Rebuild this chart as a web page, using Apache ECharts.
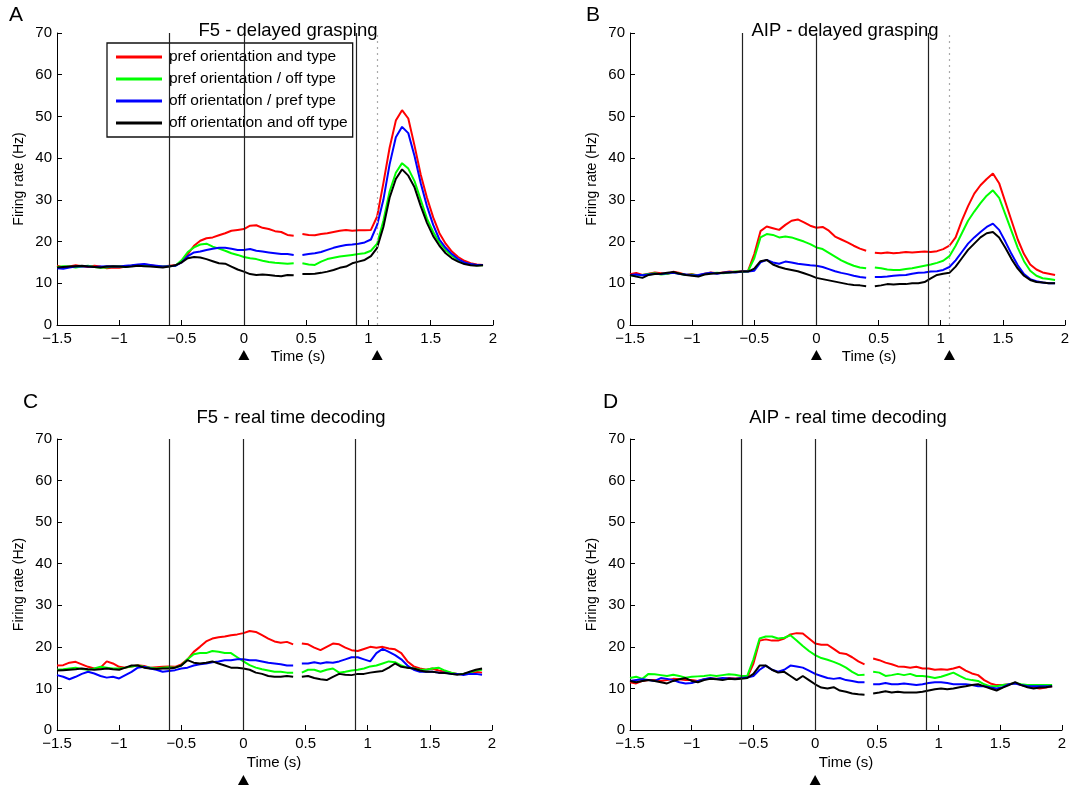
<!DOCTYPE html>
<html>
<head>
<meta charset="utf-8">
<script src="https://cdn.jsdelivr.net/npm/echarts@6/dist/echarts.min.js"></script>
<style>
  html, body { margin: 0; padding: 0; background: #fff; }
  #chart { width: 1074px; height: 787px; }
</style>
</head>
<body>
<div id="chart"></div>
<script>
// Time base (s): pre-cue segment, a break (null), then post-cue segment
const times = [-1.5,-1.45,-1.4,-1.35,-1.3,-1.25,-1.2,-1.15,-1.1,-1.05,-1,-0.95,-0.9,-0.85,-0.8,-0.75,-0.7,-0.65,-0.6,-0.55,
  -0.5,-0.45,-0.4,-0.35,-0.3,-0.25,-0.2,-0.15,-0.1,-0.05,0,0.05,0.1,0.15,0.2,0.25,0.3,0.35,0.4,
  0.435,
  0.47,0.52,0.57,0.62,0.67,0.72,0.77,0.82,0.87,0.92,0.97,1.02,1.07,1.12,1.17,1.22,1.27,1.32,1.37,1.42,1.47,1.52,1.57,1.62,1.67,1.72,1.77,1.82,1.87,1.92];

const conditionNames = ['pref orientation and type', 'pref orientation / off type', 'off orientation / pref type', 'off orientation and off type'];
const conditionColors = ['#ff0000', '#00ff00', '#0000ff', '#000000'];

const panelTitles = ['F5 - delayed grasping', 'AIP - delayed grasping', 'F5 - real time decoding', 'AIP - real time decoding'];
const panelLetters = ['A', 'B', 'C', 'D'];

// Event markers (s)
const eventLines = [-0.6, 0, 0.9];
const cueLineTop = 1.07;
const triangleTimesTop = [0, 1.07];
const triangleTimesBottom = [0];

const xTicks = { min: -1.5, max: 2, interval: 0.5 };
const yTicks = { min: 0, max: 70, interval: 10 };

// Panel A: F5 - delayed grasping
const redA = [14.2,13.8,14.0,14.3,14.1,13.9,14.2,14.0,13.6,13.8,13.7,14.0,14.2,14.3,14.5,14.3,14.1,14.0,14.2,14.3,
  15.0,17.0,19.0,20.2,20.8,21.0,21.5,22.0,22.6,22.8,23.0,23.8,23.9,23.3,23.0,22.5,22.3,21.6,21.4,
  null,
  21.8,21.6,21.5,21.8,22.0,22.3,22.6,22.8,22.6,22.7,22.7,22.8,26.0,34.0,42.5,49.0,51.5,49.5,43.0,36.0,30.5,25.8,22.0,19.5,17.6,16.3,15.4,14.8,14.5,14.4];
const greenA = [13.9,14.1,14.0,13.8,14.0,14.2,13.9,13.7,13.8,14.0,14.1,13.9,14.2,14.4,14.3,14.2,14.1,14.0,14.1,14.2,
  15.5,17.5,18.6,19.3,19.5,18.8,18.3,17.8,17.2,16.8,16.3,16.0,15.8,15.4,15.1,14.9,14.8,14.7,14.8,
  null,
  14.8,14.5,14.4,15.2,15.8,16.1,16.4,16.6,16.8,17.0,17.2,17.8,19.5,25.0,32.0,36.5,38.8,37.5,34.5,30.0,25.5,22.3,19.8,18.0,16.6,15.6,14.9,14.5,14.3,14.3];
const blueA = [13.6,13.5,13.8,14.0,14.1,14.0,13.9,14.0,14.1,14.0,14.0,14.2,14.3,14.5,14.6,14.4,14.2,14.0,14.1,14.2,
  15.0,16.5,17.4,17.6,18.0,18.3,18.5,18.5,18.3,18.0,18.0,18.2,17.8,17.6,17.4,17.2,17.0,17.0,16.8,
  null,
  16.8,17.0,17.2,17.5,18.0,18.5,18.9,19.2,19.3,19.5,19.8,20.5,24.0,30.0,38.5,45.0,47.5,46.0,40.5,34.0,28.5,24.0,20.5,18.5,17.0,15.8,15.0,14.6,14.4,14.4];
const blackA = [13.8,13.9,14.0,14.1,14.2,14.0,13.9,13.8,14.0,14.1,14.0,13.9,14.0,14.2,14.1,14.0,13.9,13.8,14.0,14.3,
  15.0,16.0,16.3,16.2,15.8,15.3,14.8,14.7,14.0,13.3,12.8,12.2,12.0,12.1,12.0,11.8,11.7,12.0,11.9,
  null,
  12.2,12.2,12.3,12.5,12.8,13.2,13.7,14.0,14.8,15.2,15.6,16.5,18.5,23.5,30.5,35.0,37.3,35.8,33.0,28.5,24.5,21.3,19.0,17.2,16.0,15.2,14.6,14.3,14.2,14.3];

// Panel B: AIP - delayed grasping
const redB = [12.2,12.5,12.0,12.3,12.6,12.4,12.2,12.8,12.5,12.0,12.2,11.9,12.3,12.6,12.4,12.6,12.8,12.7,12.9,13.0,
  17.0,22.5,23.6,23.2,22.8,24.0,25.0,25.3,24.6,23.8,23.3,23.5,22.6,21.2,20.5,19.8,19.0,18.3,17.8,
  null,
  17.3,17.2,17.4,17.2,17.3,17.5,17.4,17.5,17.6,17.5,17.7,18.2,19.0,21.0,25.0,28.5,31.5,33.5,35.0,36.3,34.0,29.5,25.0,20.5,17.0,14.5,13.3,12.6,12.3,12.0];
const greenB = [11.9,11.8,12.0,12.2,12.4,12.1,12.3,12.5,12.3,12.0,12.1,11.8,12.2,12.4,12.5,12.4,12.6,12.8,12.7,12.9,
  16.0,21.0,21.8,21.6,21.0,21.2,21.0,20.5,20.0,19.4,18.6,18.2,17.3,16.4,15.5,14.8,14.2,13.8,13.6,
  null,
  13.8,13.6,13.3,13.2,13.2,13.4,13.6,13.9,14.2,14.5,14.9,15.4,16.5,19.0,22.0,25.0,27.2,29.2,31.0,32.3,30.5,26.5,22.5,18.5,15.3,13.0,11.8,11.2,11.0,10.8];
const blueB = [12.0,12.1,11.9,12.1,12.3,12.2,12.4,12.5,12.2,12.1,11.9,12.0,12.3,12.5,12.3,12.5,12.7,12.6,12.8,12.8,
  13.0,15.0,15.6,15.0,14.7,15.2,15.0,14.7,14.5,14.3,14.2,13.9,13.4,12.9,12.5,12.2,11.8,11.5,11.3,
  null,
  11.5,11.5,11.6,11.8,11.9,12.0,12.3,12.5,12.6,12.8,12.9,13.2,13.9,15.5,17.5,19.5,21.0,22.3,23.5,24.3,22.8,20.0,17.0,14.3,12.2,11.0,10.5,10.2,10.0,10.0];
const blackB = [12.0,11.6,11.3,12.0,12.2,12.3,12.5,12.7,12.3,12.0,11.8,11.6,12.1,12.3,12.4,12.5,12.6,12.7,12.8,12.8,
  13.5,15.3,15.6,14.5,13.9,13.5,13.2,12.9,12.4,11.9,11.3,11.0,10.7,10.4,10.1,9.8,9.6,9.5,9.3,
  null,
  9.3,9.5,9.8,9.7,9.8,9.8,10.0,10.0,10.3,11.2,12.0,12.3,12.5,14.0,16.0,18.0,19.5,21.0,22.0,22.3,21.0,18.5,15.8,13.5,11.8,10.8,10.3,10.2,10.0,10.0];

// Panel C: F5 - real time decoding
const redC = [15.5,15.6,16.2,16.4,15.8,15.2,14.8,15.0,16.5,16.0,15.2,15.0,15.3,15.6,15.4,15.0,15.1,15.2,15.3,15.2,
  15.8,17.0,18.8,20.0,21.3,22.0,22.3,22.5,22.8,23.0,23.3,23.8,23.6,22.8,22.0,21.3,21.0,21.2,20.6,
  null,
  20.8,20.6,19.8,19.2,20.0,20.8,20.6,19.8,19.2,19.0,19.5,20.0,19.8,20.0,19.6,19.4,18.5,16.5,15.3,14.8,14.5,14.8,14.3,14.0,13.8,13.5,13.5,13.8,14.0,13.8];
const greenC = [14.5,14.6,14.8,15.0,14.7,14.5,14.8,15.2,15.0,14.8,14.8,15.0,15.3,15.5,15.2,15.0,14.8,15.0,15.1,15.0,
  15.5,17.0,18.2,18.5,18.5,19.0,18.8,18.5,18.5,17.5,16.5,15.6,15.0,14.6,14.3,14.0,14.0,13.8,13.8,
  null,
  13.8,14.5,14.5,14.0,14.5,14.8,13.8,14.0,14.3,14.5,14.8,15.3,15.5,16.0,16.5,16.3,15.5,15.0,14.8,14.5,14.5,14.8,15.0,14.3,13.8,13.5,13.5,13.8,14.3,14.5];
const blueC = [13.2,12.8,12.2,12.8,13.5,14.0,13.6,13.0,12.6,12.8,12.4,13.2,14.0,15.0,15.2,14.8,14.5,14.0,14.2,14.4,
  14.8,15.0,15.5,15.8,16.0,16.3,16.5,16.8,16.8,17.0,17.0,16.8,16.8,16.5,16.2,16.0,15.8,15.5,15.5,
  null,
  16.0,16.0,16.3,16.0,16.3,16.2,16.5,17.0,17.5,17.5,17.0,16.5,18.5,19.5,18.8,18.0,17.0,15.5,14.5,14.0,14.0,14.0,13.8,13.8,13.5,13.5,13.2,13.5,13.5,13.3];
const blackC = [14.3,14.4,14.5,14.6,14.8,14.6,14.5,14.6,14.8,14.6,14.5,15.0,15.5,15.5,15.0,14.8,14.7,14.8,14.8,15.0,
  15.5,16.8,16.2,16.0,16.2,16.5,16.0,15.5,15.0,15.0,14.8,14.5,13.8,13.5,13.0,12.8,12.8,13.0,12.8,
  null,
  12.8,13.0,12.5,12.2,12.0,12.8,13.5,13.3,13.2,13.5,13.5,13.8,14.0,14.2,15.0,16.0,15.2,15.0,14.8,14.3,14.0,14.0,13.8,13.7,13.5,13.3,13.5,14.0,14.5,14.8];

// Panel D: AIP - real time decoding
const redD = [11.5,11.2,11.8,12.0,12.0,11.8,12.0,12.3,12.2,12.0,12.0,11.8,12.2,12.4,12.3,12.3,12.5,12.4,12.5,12.6,
  16.0,21.5,21.8,21.5,21.5,22.0,23.0,23.3,23.2,22.0,20.8,20.5,20.5,19.5,18.5,18.3,17.5,16.5,15.8,
  null,
  17.2,16.8,16.2,15.8,15.3,15.2,15.0,15.2,14.8,14.8,14.5,14.6,14.5,14.8,15.2,14.3,13.6,13.2,12.0,11.2,10.8,10.8,11.0,11.3,10.8,10.5,10.2,10.0,10.2,10.5];
const greenD = [12.5,12.8,12.3,13.5,13.4,13.2,13.0,13.3,13.0,12.6,12.8,12.9,13.0,13.2,13.0,13.2,13.4,13.3,13.0,13.0,
  17.0,22.0,22.5,22.5,22.0,22.2,22.8,21.5,20.2,19.0,18.0,17.3,16.9,16.4,15.8,15.0,14.0,13.2,13.3,
  null,
  14.0,13.8,13.0,13.2,13.5,13.2,13.5,13.0,13.0,12.8,12.5,12.8,13.3,13.8,13.0,12.3,12.0,11.8,11.0,10.5,10.5,10.8,11.0,11.3,11.0,10.8,10.8,10.8,10.8,10.8];
const blueD = [11.8,12.0,12.2,12.0,11.8,12.5,12.3,12.0,11.5,11.2,11.3,11.8,12.2,12.5,12.3,12.5,12.4,12.3,12.5,12.6,
  13.0,14.5,15.5,14.5,14.0,14.5,15.5,15.3,15.0,14.3,13.5,13.0,12.5,12.3,12.5,12.0,11.8,11.5,11.5,
  null,
  11.0,11.0,11.3,11.0,11.0,11.2,11.0,10.8,11.0,11.3,11.5,11.5,11.3,11.0,11.0,11.0,10.8,10.5,10.5,10.2,10.0,10.3,11.0,11.2,10.8,10.5,10.5,10.5,10.5,10.5];
const blackD = [11.8,11.5,11.8,12.0,11.8,11.5,11.2,11.8,12.2,12.5,11.8,11.5,12.0,12.3,12.2,12.0,12.3,12.2,12.3,12.5,
  13.5,15.5,15.5,14.5,13.8,14.0,13.0,12.0,13.0,12.0,11.0,10.2,10.0,10.3,9.5,9.2,8.8,8.6,8.5,
  null,
  8.8,9.0,9.3,9.0,9.2,9.0,9.0,9.0,9.2,9.5,9.8,10.0,9.8,10.0,10.3,10.5,10.8,11.0,10.5,10.0,9.5,10.2,10.8,11.5,10.8,10.3,10.0,10.2,10.3,10.5];

const panelData = [
  [redA, greenA, blueA, blackA],
  [redB, greenB, blueB, blackB],
  [redC, greenC, blueC, blackC],
  [redD, greenD, blueD, blackD]
];

const FONT = '"Liberation Sans", Arial, Helvetica, sans-serif';

const grids = [
  { left: 57, top: 33, width: 436, height: 292 },
  { left: 630, top: 33, width: 435, height: 292 },
  { left: 57, top: 439, width: 435, height: 291 },
  { left: 630, top: 439, width: 432, height: 291 }
];

const minus = v => String(v).replace('-', '\u2212');

const xAxes = grids.map((g, i) => ({
  type: 'value', gridIndex: i, min: xTicks.min, max: xTicks.max, interval: xTicks.interval,
  axisLine: { show: true, onZero: false, lineStyle: { color: '#000', width: 1 } },
  axisTick: { show: true, inside: true, length: 5, lineStyle: { color: '#000' } },
  axisLabel: { color: '#000', fontSize: 15, fontFamily: FONT, margin: 6, formatter: minus },
  splitLine: { show: false }
}));

const yAxes = grids.map((g, i) => ({
  type: 'value', gridIndex: i, min: yTicks.min, max: yTicks.max, interval: yTicks.interval,
  name: 'Firing rate (Hz)', nameLocation: 'middle', nameGap: 31,
  nameTextStyle: { color: '#000', fontSize: 14, fontFamily: FONT },
  axisLine: { show: true, onZero: false, lineStyle: { color: '#000', width: 1 } },
  axisTick: { show: true, inside: true, length: 5, lineStyle: { color: '#000' } },
  axisLabel: { color: '#000', fontSize: 15, fontFamily: FONT, margin: 5 },
  splitLine: { show: false }
}));

const series = [];
panelData.forEach((vals, p) => {
  vals.forEach((arr, c) => {
    const s = {
      type: 'line', name: conditionNames[c], xAxisIndex: p, yAxisIndex: p,
      data: times.map((t, k) => [t, arr[k] === null ? '-' : arr[k]]),
      showSymbol: false, symbol: 'none', connectNulls: false,
      lineStyle: { color: conditionColors[c], width: 2 },
      itemStyle: { color: conditionColors[c] },
      animation: false, silent: true
    };
    if (c === 0) {
      const lines = eventLines.map(x => ({ xAxis: x, lineStyle: { color: '#222', width: 1.2, type: 'solid' } }));
      if (p < 2) lines.push({ xAxis: cueLineTop, lineStyle: { color: '#aaa', width: 1.2, type: [2, 4] } });
      s.markLine = { symbol: 'none', silent: true, animation: false, label: { show: false }, data: lines };
    }
    series.push(s);
  });
});

const titleTops = [16, 16, 403, 403];
const titleCenters = [283, 840, 286, 843];
const titles = panelTitles.map((t, i) => ({
  text: t, left: titleCenters[i], top: titleTops[i], textAlign: 'center',
  textStyle: { fontSize: 18.5, fontWeight: 'normal', color: '#000', fontFamily: FONT }
}));

const chart = echarts.init(document.getElementById('chart'), null, { renderer: 'canvas' });
chart.setOption({
  backgroundColor: '#fff',
  animation: false,
  title: titles,
  grid: grids,
  xAxis: xAxes,
  yAxis: yAxes,
  legend: {
    left: 107, top: 43, orient: 'vertical',
    data: conditionNames,
    icon: 'rect', itemWidth: 46, itemHeight: 3, itemGap: 6,
    backgroundColor: '#fff', borderColor: '#111', borderWidth: 1.3,
    padding: [6, 5, 6, 9],
    textStyle: { fontSize: 15.5, color: '#000', fontFamily: FONT, lineHeight: 16, padding: [0, 0, 0, 2] },
    selectedMode: false
  },
  series: series
});

// Annotations: panel letters, time axis captions, and event triangles below the axes
const letterPos = [[9, 5], [586, 5], [23, 392], [603, 392]];
const timeCaptionPos = [[298, 357], [869, 357], [274, 763], [846, 763]];
const graphics = [];
panelLetters.forEach((l, i) => {
  graphics.push({ type: 'text', left: letterPos[i][0], top: letterPos[i][1],
    style: { text: l, fontSize: 21, fill: '#000', font: '21px ' + FONT } });
  graphics.push({ type: 'text', x: timeCaptionPos[i][0], y: timeCaptionPos[i][1],
    style: { text: 'Time (s)', fill: '#000', font: '15px ' + FONT, textAlign: 'center', textVerticalAlign: 'middle' } });
});
[0, 1, 2, 3].forEach(p => {
  const ts = p < 2 ? triangleTimesTop : triangleTimesBottom;
  const dy = p < 2 ? 25 : 45;
  ts.forEach(t => {
    const pt = chart.convertToPixel({ xAxisIndex: p, yAxisIndex: p }, [t, 0]);
    const cx = pt[0], top = pt[1] + dy;
    graphics.push({ type: 'polygon', shape: { points: [[cx, top], [cx - 5.5, top + 10], [cx + 5.5, top + 10]] },
      style: { fill: '#000' } });
  });
});
chart.setOption({ graphic: graphics });
</script>
</body>
</html>
